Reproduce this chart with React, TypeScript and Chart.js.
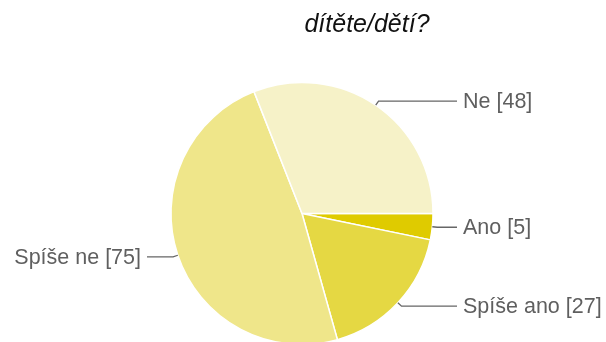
import React, { useEffect, useRef } from "react";
import { Chart, registerables } from "chart.js";

Chart.register(...registerables);

const categories = ["Ano", "Spíše ano", "Spíše ne", "Ne"];
const values = [5, 27, 75, 48];
const colors = ["#dfcb00", "#e5d843", "#efe68a", "#f6f2c8"];
const titleText = "dítěte/dětí?";

const FONT = "'Liberation Sans', Arial, sans-serif";

const labelPlugin = {
  id: "outLabels",
  afterDraw(chart: any) {
    const ctx = chart.ctx;
    const meta = chart.getDatasetMeta(0);
    ctx.save();
    // title
    ctx.font = `italic 25px ${FONT}`;
    ctx.fillStyle = "#111";
    ctx.textAlign = "center";
    ctx.textBaseline = "alphabetic";
    ctx.fillText(titleText, 367, 32);

    ctx.font = `21.5px ${FONT}`;
    ctx.textBaseline = "middle";
    meta.data.forEach((arc: any, i: number) => {
      const { x, y, startAngle, endAngle, outerRadius } = arc.getProps(
        ["x", "y", "startAngle", "endAngle", "outerRadius"],
        true
      );
      const mid = (startAngle + endAngle) / 2;
      const cos = Math.cos(mid);
      const sin = Math.sin(mid);
      const p0x = x + cos * outerRadius;
      const p0y = y + sin * outerRadius;
      const p1x = x + cos * (outerRadius + 5);
      const p1y = y + sin * (outerRadius + 5);
      const right = cos >= 0;
      const endX = right ? x + 155 : x - 155;
      ctx.strokeStyle = "#666";
      ctx.lineWidth = 1.3;
      ctx.beginPath();
      ctx.moveTo(p0x, p0y);
      ctx.lineTo(p1x, p1y);
      ctx.lineTo(endX, p1y);
      ctx.stroke();
      ctx.fillStyle = "#5f5f5f";
      ctx.textAlign = right ? "left" : "right";
      const label = `${categories[i]} [${values[i]}]`;
      ctx.fillText(label, right ? endX + 6 : endX - 6, p1y + 1);
    });
    ctx.restore();
  },
};

export default function App() {
  const ref = useRef<HTMLCanvasElement>(null);
  useEffect(() => {
    if (!ref.current) return;
    const chart = new Chart(ref.current, {
      type: "pie",
      data: {
        labels: categories,
        datasets: [
          {
            data: values,
            backgroundColor: colors,
            borderColor: "#ffffff",
            borderWidth: 1.5,
          },
        ],
      },
      options: {
        responsive: false,
        animation: false,
        rotation: 90,
        layout: { padding: { left: 170.25, right: 172.25, top: 81.75, bottom: 4.75 } },
        plugins: {
          legend: { display: false },
          tooltip: { enabled: false },
          title: { display: false },
        },
      },
      plugins: [labelPlugin],
    });
    return () => chart.destroy();
  }, []);
  return (
    <div
      style={{
        position: "fixed",
        left: 0,
        top: 0,
        width: 606,
        height: 342,
        overflow: "hidden",
        background: "#fff",
      }}
    >
      <canvas ref={ref} width={606} height={350} style={{ width: 606, height: 350, display: "block" }} />
    </div>
  );
}
